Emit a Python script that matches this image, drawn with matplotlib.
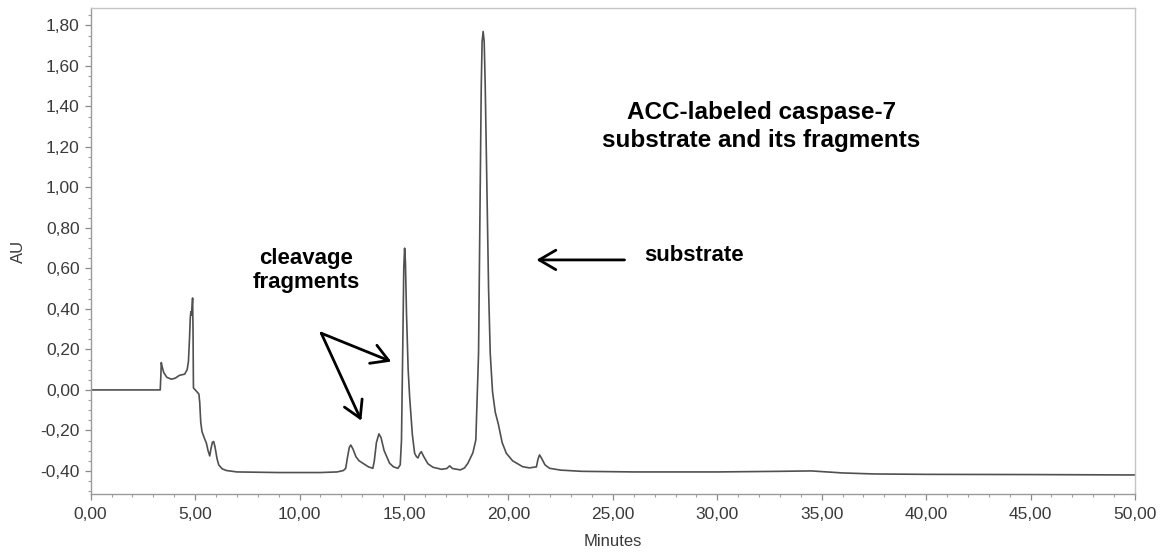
import matplotlib
matplotlib.use("Agg")
import matplotlib.pyplot as plt
from matplotlib.ticker import MultipleLocator, FuncFormatter

plt.rcParams['font.family'] = ['Liberation Sans', 'DejaVu Sans']

# ---- data ----
time_min = [
    0.0, 3.33, 3.36, 3.38, 3.42, 3.50, 3.65, 3.86, 4.05, 4.25, 4.50, 4.62, 4.68,
    4.73, 4.77, 4.80, 4.83, 4.86, 4.88, 4.90, 4.92, 5.05, 5.18, 5.22, 5.27, 5.33,
    5.45, 5.54, 5.62, 5.70, 5.76, 5.83, 5.89, 5.95, 6.05, 6.13, 6.30, 6.50, 7.0,
    9.0, 11.0, 11.8, 12.1, 12.21, 12.30, 12.38, 12.45, 12.55, 12.70, 12.85, 13.03,
    13.30, 13.51, 13.58, 13.68, 13.80, 13.90, 14.05, 14.31, 14.50, 14.71, 14.82,
    14.88, 14.94, 14.99, 15.03, 15.07, 15.12, 15.20, 15.27, 15.40, 15.51, 15.60,
    15.67, 15.75, 15.83, 15.95, 16.15, 16.39, 16.80, 17.05, 17.19, 17.32, 17.70,
    17.90, 18.06, 18.30, 18.44, 18.50, 18.57, 18.65, 18.70, 18.74, 18.79, 18.84,
    18.89, 18.97, 19.05, 19.13, 19.24, 19.37, 19.52, 19.70, 19.90, 20.20, 20.68,
    21.00, 21.34, 21.42, 21.49, 21.60, 21.75, 21.97, 22.50, 23.50, 26.0, 30.0,
    33.0, 34.5, 36.0, 37.5, 40.0, 45.0, 50.0,
]
absorbance_au = [
    0.000, 0.000, 0.070, 0.135, 0.115, 0.085, 0.062, 0.053, 0.058, 0.072, 0.078,
    0.100, 0.140, 0.250, 0.360, 0.387, 0.370, 0.420, 0.454, 0.300, 0.010, -0.005,
    -0.020, -0.060, -0.160, -0.206, -0.240, -0.263, -0.300, -0.326, -0.290,
    -0.258, -0.255, -0.280, -0.340, -0.370, -0.390, -0.398, -0.405, -0.408,
    -0.408, -0.405, -0.398, -0.387, -0.330, -0.285, -0.272, -0.290, -0.330,
    -0.350, -0.362, -0.380, -0.387, -0.350, -0.260, -0.217, -0.235, -0.300,
    -0.362, -0.380, -0.387, -0.370, -0.250, 0.200, 0.600, 0.700, 0.630, 0.380,
    0.100, -0.033, -0.220, -0.313, -0.330, -0.336, -0.315, -0.305, -0.330,
    -0.365, -0.382, -0.392, -0.388, -0.375, -0.388, -0.395, -0.385, -0.362,
    -0.310, -0.247, -0.050, 0.180, 1.000, 1.500, 1.720, 1.770, 1.720, 1.500,
    1.000, 0.500, 0.180, -0.010, -0.110, -0.170, -0.260, -0.313, -0.350, -0.379,
    -0.385, -0.380, -0.340, -0.321, -0.340, -0.370, -0.387, -0.396, -0.402,
    -0.405, -0.405, -0.402, -0.400, -0.410, -0.415, -0.417, -0.418, -0.420,
]

x_ticks = [0, 5, 10, 15, 20, 25, 30, 35, 40, 45, 50]
y_ticks = [-0.4, -0.2, 0.0, 0.2, 0.4, 0.6, 0.8, 1.0, 1.2, 1.4, 1.6, 1.8]

title_lines = "ACC-labeled caspase-7\nsubstrate and its fragments"
frag_label = "cleavage\nfragments"
sub_label = "substrate"

# ---- figure ----
fig = plt.figure(figsize=(11.67, 5.56), dpi=100)
ax = fig.add_axes([0.0777, 0.1115, 0.8949, 0.8741])

ax.plot(time_min, absorbance_au, color='#505050', lw=1.2, solid_joinstyle='round')

ax.set_xlim(0, 50)
ax.set_ylim(-0.514, 1.886)
ax.set_xticks(x_ticks)
ax.set_yticks(y_ticks)
ax.xaxis.set_minor_locator(MultipleLocator(1))
ax.yaxis.set_minor_locator(MultipleLocator(0.05))
fmt = FuncFormatter(lambda v, p: f"{v:.2f}".replace('.', ',').replace('-0,00', '0,00'))
ax.xaxis.set_major_formatter(fmt)
ax.yaxis.set_major_formatter(fmt)

for s in ['left', 'bottom']:
    ax.spines[s].set_color('#9a9a9a')
    ax.spines[s].set_linewidth(1.0)
for s in ['top', 'right']:
    ax.spines[s].set_color('#c4c4c4')
    ax.spines[s].set_linewidth(1.0)

ax.tick_params(which='major', direction='out', length=4, width=0.9, color='#8a8a8a',
               labelsize=12.5, labelcolor='#3a3a3a', pad=4)
ax.tick_params(which='minor', direction='out', length=2.2, width=0.8, color='#a0a0a0')
ax.tick_params(axis='x', which='major', pad=5)

ax.set_xlabel("Minutes", fontsize=12, color='#3a3a3a', labelpad=9)
ax.set_ylabel("AU", fontsize=12, color='#3a3a3a', labelpad=10)

# annotations
ax.text(32.1, 1.30, title_lines, ha='center', va='center', fontsize=17.5,
        fontweight='bold', color='#000000', linespacing=1.3)
ax.text(10.3, 0.59, frag_label, ha='center', va='center', fontsize=16,
        fontweight='bold', color='#000000', linespacing=1.15)
ax.text(28.9, 0.665, sub_label, ha='center', va='center', fontsize=16,
        fontweight='bold', color='#000000')

arrow_kw = dict(arrowstyle='->, head_length=0.6, head_width=0.35', color='#000000',
                lw=2.0, shrinkA=0, shrinkB=0, mutation_scale=20)
ax.annotate("", xy=(21.34, 0.642), xytext=(25.56, 0.642), arrowprops=arrow_kw)
ax.annotate("", xy=(14.39, 0.14), xytext=(11.04, 0.28), arrowprops=arrow_kw)
ax.annotate("", xy=(12.96, -0.152), xytext=(11.04, 0.28), arrowprops=arrow_kw)

fig.savefig("out.png", dpi=100)
